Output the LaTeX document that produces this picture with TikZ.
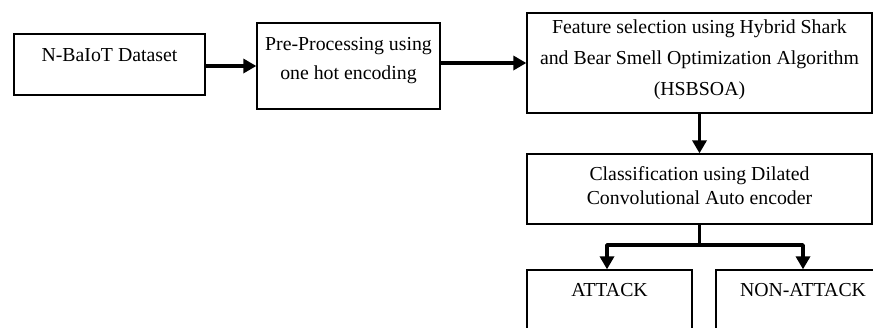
\documentclass[tikz,border=0pt]{standalone}
\usepackage{fontspec}
\setmainfont{Liberation Serif}
\usetikzlibrary{arrows.meta}

\begin{document}
\begin{tikzpicture}[x=1pt,y=-1pt]
    \tikzstyle{block}=[draw,line width=1.3pt,rectangle,inner sep=0pt]
    \tikzstyle{txt}=[inner sep=0pt,align=center,anchor=base,font=\fontsize{19.8}{29}\selectfont]
    \tikzstyle{line}=[draw,line width=3.6pt,black]
    \tikzstyle{arr}=[line,-{Triangle[length=13pt,width=14pt]}]
    \clip (0,0) rectangle (873,327);
    \fill[white] (0,0) rectangle (873,327);
    % boxes
    \node[block,minimum width=191pt,minimum height=61pt] (data) at (109.5,64.5) {};
    \node[block,minimum width=183pt,minimum height=86pt] (prep) at (348.5,66) {};
    \node[block,minimum width=345pt,minimum height=100pt] (feat) at (699.5,63) {};
    \node[block,minimum width=345pt,minimum height=70pt] (cls) at (699.5,189) {};
    \node[block,minimum width=165pt,minimum height=70pt] (atk) at (609.5,305) {};
    \node[block,minimum width=174pt,minimum height=70pt] (natk) at (803,305) {};
    % texts (base = last line)
    \node[txt] (datat) at ([yshift=-28pt]data.north) {N-BaIoT Dataset};
    \node[txt] (prept) at ([yshift=-57pt]prep.north) {Pre-Processing using\\one hot encoding};
    \node[txt,font=\fontsize{19.8}{31}\selectfont] (featt) at ([yshift=-83pt]feat.north)
        {Feature selection using Hybrid Shark\\and Bear Smell Optimization Algorithm\\(HSBSOA)};
    \node[txt,font=\fontsize{19.8}{24}\selectfont] (clst) at ([yshift=-51pt]cls.north)
        {Classification using Dilated\\Convolutional Auto encoder};
    \node[txt] (atkt) at ([yshift=-27pt]atk.north) {ATTACK};
    \node[txt] (natkt) at ([yshift=-27pt]natk.north) {NON-ATTACK};
    % arrows
    \coordinate (split) at (699.5,245);
    \draw[arr] ([yshift=-1.5pt]data.east) -- ([yshift=-1.5pt]data.east -| prep.west);
    \draw[arr] (prep.east |- feat.west) -- (feat.west);
    \draw[arr] (feat.south) -- (cls.north);
    \draw[line] (cls.south) -- (split);
    \draw[arr,line join=round] (split) -| ([xshift=-2.5pt]atk.north);
    \draw[arr,line join=round] (split) -| (natk.north);
\end{tikzpicture}
\end{document}
